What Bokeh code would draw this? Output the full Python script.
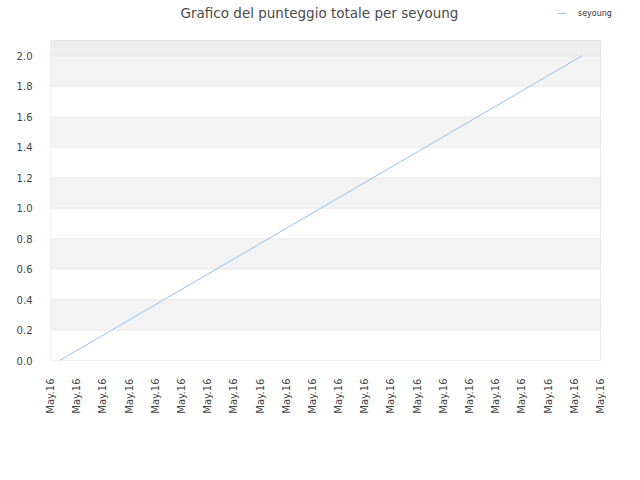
from bokeh.plotting import figure
from bokeh.models import FixedTicker, Legend, LegendItem, BoxAnnotation, Range1d, NumeralTickFormatter, Label
from bokeh.embed import file_html
from bokeh.resources import INLINE

# Data
tick_positions = list(range(22))
tick_labels = ["May.16"] * 22
x_vals = [0.35, 20.3]
y_vals = [0.0, 2.0]
y_ticks = [0.0, 0.2, 0.4, 0.6, 0.8, 1.0, 1.2, 1.4, 1.6, 1.8, 2.0]
y_top = 2.1
series_name = "seyoung"
title_text = "Grafico del punteggio totale per seyoung"

FONT = "DejaVu Sans"
TXT = "#444444"

# plot area 550 x 320 px for x 0..21, y 0..2.1; frame extended to hold title and legend
X_END = 21 * 582 / 550
Y_END = 2.1 * 360 / 320

p = figure(width=632, height=472, output_backend="svg", toolbar_location=None,
           x_range=Range1d(0, X_END), y_range=Range1d(0, Y_END),
           min_border_left=50, min_border_right=0, min_border_top=0, min_border_bottom=112)

p.background_fill_color = "white"
p.border_fill_color = "white"
p.outline_line_color = None
p.xgrid.visible = False
p.ygrid.visible = False

# background bands with grid lines
edges = y_ticks + [y_top]
for i in range(len(edges) - 1):
    if i == len(edges) - 2:
        fill = "#eeeeee"
    elif i % 2 == 1:
        fill = "#f3f3f3"
    else:
        fill = "#ffffff"
    p.add_layout(BoxAnnotation(left=tick_positions[0], right=tick_positions[-1],
                               bottom=edges[i], top=edges[i + 1],
                               fill_color=fill, fill_alpha=1.0,
                               line_color="#dcdcdc", line_width=1, level="underlay"))
p.add_layout(BoxAnnotation(left=tick_positions[0], right=tick_positions[-1],
                           bottom=0, top=y_top, fill_alpha=0,
                           line_color="#cfcfcf", line_width=1.2, level="underlay"))

# axes
p.xaxis.ticker = FixedTicker(ticks=tick_positions)
p.xaxis.major_label_overrides = {i: lab for i, lab in zip(tick_positions, tick_labels)}
p.xaxis.major_label_orientation = 3.14159265 / 2
p.yaxis.ticker = FixedTicker(ticks=y_ticks)
p.yaxis.formatter = NumeralTickFormatter(format="0.0")
for ax in (p.xaxis, p.yaxis):
    ax.axis_line_color = None
    ax.major_tick_line_color = None
    ax.minor_tick_line_color = None
    ax.major_label_text_font = FONT
    ax.major_label_text_font_size = "10px"
    ax.major_label_text_color = TXT
    ax.major_label_standoff = 12

r = p.line(x_vals, y_vals, line_color="#8fc3f5", line_width=1)

# title
p.add_layout(Label(x=10.27, y=(360 - 12) / 360 * Y_END, text=title_text,
                   text_align="center", text_baseline="middle",
                   text_font=FONT, text_font_size="13.5px", text_color="#4a4a4a"))

legend = Legend(items=[LegendItem(label=series_name, renderers=[r])],
                location=(507, 342), padding=0, margin=0, spacing=0,
                glyph_width=9, glyph_height=10, label_height=10, label_standoff=12,
                label_text_font=FONT, label_text_font_size="8px", label_text_color="#333333",
                border_line_color=None, background_fill_alpha=0)
p.add_layout(legend, "center")

open("out.html", "w").write(file_html(p, INLINE))
